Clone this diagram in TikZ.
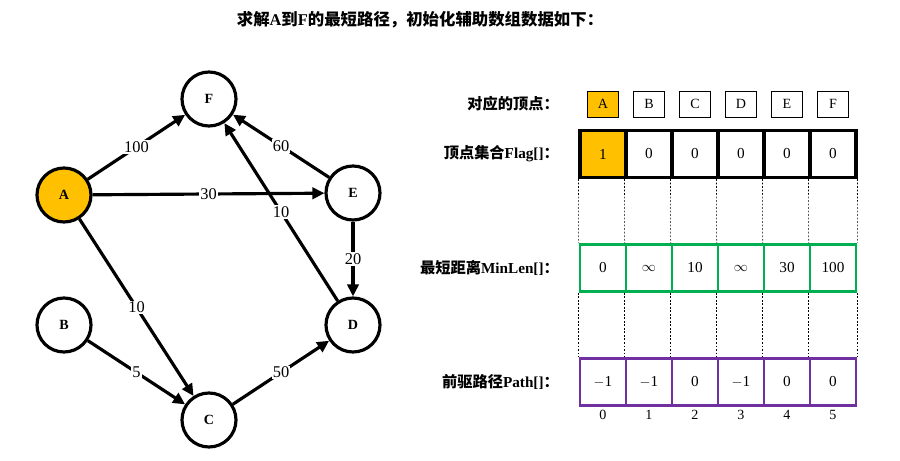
\documentclass[tikz,border=0pt]{standalone}
\usepackage{fontspec}
\setmainfont{Liberation Serif}
\newfontfamily\cjk{Noto Sans CJK SC}
\usetikzlibrary{arrows.meta,positioning}
\definecolor{srcorange}{HTML}{FFC000}
\definecolor{lengreen}{HTML}{00B050}
\definecolor{pathpurple}{HTML}{7030A0}

\begin{document}
\begin{tikzpicture}[
  x=0.03cm, y=-0.03cm,
  vertex/.style={circle, draw, line width=2.7pt, minimum size=1.62cm, inner sep=0pt,
    font=\fontsize{12}{14}\selectfont\bfseries},
  start/.style={vertex, fill=srcorange},
  arr/.style={-{Triangle[length=3.6mm,width=3.4mm]}, line width=2.7pt},
  wt/.style={fill=white, inner sep=1pt, font=\fontsize{14}{16}\selectfont},
  head/.style={draw, line width=0.8pt, minimum width=0.93cm, minimum height=0.78cm,
    inner sep=0pt, font=\fontsize{12}{14}\selectfont},
  cell/.style={draw, minimum width=1.38cm, minimum height=1.41cm, inner sep=0pt,
    font=\fontsize{13}{15}\selectfont},
  flagcell/.style={cell, line width=2.6pt},
  lencell/.style={cell, draw=lengreen, line width=2.2pt},
  pathcell/.style={cell, draw=pathpurple, line width=2.2pt},
  rowlabel/.style={anchor=east, font=\fontsize{13}{15}\selectfont\cjk\bfseries},
  guide/.style={dash pattern=on 1.5pt off 1.5pt, line width=0.5pt},
]
\useasboundingbox (0,0) rectangle (900,461);

\node[font=\fontsize{14}{16}\selectfont\cjk\bfseries] (title) at (420,20)
  {求解{\rmfamily A}到{\rmfamily F}的最短路径，初始化辅助数组数据如下：};

% graph
\node[start] (A) at (64,195) {A};
\node[vertex] (B) at (64,325) {B};
\node[vertex] (C) at (209,420) {C};
\node[vertex] (D) at (353,325) {D};
\node[vertex] (E) at (353,193) {E};
\node[vertex] (F) at (209,99) {F};

\draw[arr] (A) -- node[wt]{100} (F);
\draw[arr] (A) -- node[wt]{30} (E);
\draw[arr] (A) -- node[wt]{10} (C);
\draw[arr] (B) -- node[wt]{5} (C);
\draw[arr] (C) -- node[wt]{50} (D);
\draw[arr] (E) -- node[wt]{60} (F);
\draw[arr] (D) -- node[wt]{10} (F);
\draw[arr] (E) -- node[wt]{20} (D);

% arrays
\node[rowlabel] (toplabel) at (563,104) {对应的顶点：};
\node[rowlabel] (flaglabel) at (563,154) {顶点集合{\rmfamily Flag[]}：};
\node[rowlabel] (lenlabel) at (563,268) {最短距离{\rmfamily MinLen[]}：};
\node[rowlabel] (pathlabel) at (563,382) {前驱路径{\rmfamily Path[]}：};

\foreach \v/\f [count=\i from 0] in {A/srcorange,B/white,C/white,D/white,E/white,F/white}
  \node[head, fill=\f] (top\i) at (603+46*\i,104) {\v};
\foreach \v/\f [count=\i from 0] in {1/srcorange,0/white,0/white,0/white,0/white,0/white}
  \node[flagcell, fill=\f] (flag\i) at (603+46*\i,154) {\v};
\foreach \v [count=\i from 0] in {0,$\infty$,10,$\infty$,30,100}
  \node[lencell] (len\i) at (603+46*\i,268) {\v};
\foreach \v [count=\i from 0] in {$-$1,$-$1,0,$-$1,0,0}
  \node[pathcell] (path\i) at (603+46*\i,382) {\v};
\foreach \i in {0,...,5}
  \node[font=\fontsize{12}{14}\selectfont] (idx\i) at (603+46*\i,415) {\i};

\foreach \i in {0,...,5} {
  \draw[guide] (flag\i.south west) -- (len\i.north west);
  \draw[guide] (len\i.south west) -- (path\i.north west);
}
\draw[guide] (flag5.south east) -- (len5.north east);
\draw[guide] (len5.south east) -- (path5.north east);
\end{tikzpicture}
\end{document}
